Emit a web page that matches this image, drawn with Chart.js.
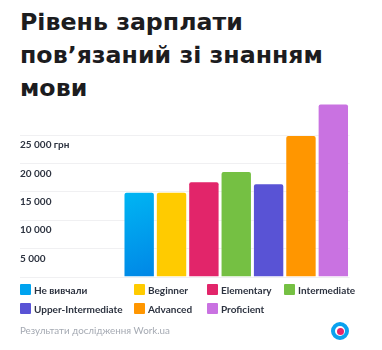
<!DOCTYPE html>
<html lang="uk">
<head>
<meta charset="utf-8">
<script src="https://cdn.jsdelivr.net/npm/chart.js@4/dist/chart.umd.min.js"></script>
<style>
  html, body { margin: 0; padding: 0; background: #fff; }
  body { width: 382px; height: 350px; position: relative; overflow: hidden; font-family: Lato, "Noto Sans", sans-serif; }
  #title { position: absolute; left: 20px; top: 6px; margin: 0; font-family: "DejaVu Sans", sans-serif; font-size: 23.7px; line-height: 33px; font-weight: 700; color: #1c1c1e; }
  #wrap { position: absolute; left: 0; top: 95px; width: 382px; height: 190px; }
  #legend { position: absolute; left: 20px; top: 282px; width: 350px; font-size: 10px; font-weight: 700; color: #2d3340; }
  .item { position: absolute; display: flex; align-items: center; white-space: nowrap; height: 13px; }
  .box { width: 11px; height: 11px; margin-right: 3px; border-radius: 1px; }
  #source { position: absolute; left: 20px; top: 324px; font-size: 9.8px; color: #a5aab3; }
  #logo { position: absolute; left: 331px; top: 322px; width: 10px; height: 10px; border: 4px solid #0aa2ef; border-radius: 50%; background: #fff; }
  #logo::after { content: ""; position: absolute; left: 1.5px; top: 1.5px; width: 7px; height: 7px; border-radius: 50%; background: #e5246a; }
</style>
</head>
<body>
<h1 id="title">Рівень зарплати<br>пов’язаний зі знанням<br>мови</h1>
<div id="wrap"><canvas id="chart"></canvas></div>
<div id="legend"></div>
<div id="source">Результати дослідження Work.ua</div>
<div id="logo"></div>
<script>
// Salary (UAH) by English level
const levels = ['Не вивчали', 'Beginner', 'Elementary', 'Intermediate', 'Upper-Intermediate', 'Advanced', 'Proficient'];
const salaries = [15000, 15000, 16850, 18650, 16500, 25000, 30550];
const tickValues = [0, 5000, 10000, 15000, 20000, 25000];
const tickLabels = ['', '5 000', '10 000', '15 000', '20 000', '25 000 грн'];
const colors = ['#00a3ef', '#ffcb00', '#e2256a', '#75c043', '#5953d5', '#ff9600', '#c972e1'];

// legend laid out in a fixed grid, four columns
const legendCols = [0, 114, 187, 264];
const legendRows = [1, 20];
const legend = document.getElementById('legend');
levels.forEach((name, i) => {
  const el = document.createElement('div');
  el.className = 'item';
  el.style.left = legendCols[i % 4] + 'px';
  el.style.top = legendRows[Math.floor(i / 4)] + 'px';
  const box = document.createElement('span');
  box.className = 'box';
  box.style.background = colors[i];
  const txt = document.createElement('span');
  txt.textContent = name;
  el.appendChild(box);
  el.appendChild(txt);
  legend.appendChild(el);
});

function barColor(ctx) {
  const i = ctx.dataIndex;
  if (i !== 0) return colors[i];
  const chart = ctx.chart;
  const x = chart.scales.x, y = chart.scales.y;
  if (!chart.chartArea || !x || !y) return colors[0];
  const cx = x.getPixelForValue(i);
  const top = y.getPixelForValue(salaries[i]);
  const bottom = y.getPixelForValue(0);
  const g = chart.ctx.createLinearGradient(cx - 16, top, cx + 16, bottom);
  g.addColorStop(0, '#00b6f3');
  g.addColorStop(1, '#0086e6');
  return g;
}

new Chart(document.getElementById('chart'), {
  type: 'bar',
  data: {
    labels: levels,
    datasets: [{
      data: salaries,
      backgroundColor: barColor,
      borderColor: 'rgba(255,255,255,0.35)',
      borderWidth: 1,
      borderSkipped: 'bottom',
      borderRadius: 3,
      categoryPercentage: 1,
      barPercentage: 0.97
    }]
  },
  options: {
    responsive: true,
    maintainAspectRatio: false,
    animation: false,
    layout: { padding: { left: 20, right: 32.5, top: 6, bottom: 8 } },
    plugins: { legend: { display: false }, tooltip: { enabled: false } },
    scales: {
      x: { display: false },
      y: {
        min: 0,
        max: 31000,
        afterBuildTicks: (axis) => { axis.ticks = tickValues.map(v => ({ value: v })); },
        afterFit: (axis) => { axis.width = 103; },
        border: { display: false },
        grid: { color: '#f0f0f2', lineWidth: 1, drawTicks: true, tickLength: 103 },
        ticks: {
          padding: 0,
          crossAlign: 'far',
          labelOffset: 10,
          color: '#2d3340',
          font: { family: 'Lato', size: 10, weight: 700 },
          callback: (v) => tickLabels[tickValues.indexOf(v)]
        }
      }
    }
  }
});
</script>
</body>
</html>
